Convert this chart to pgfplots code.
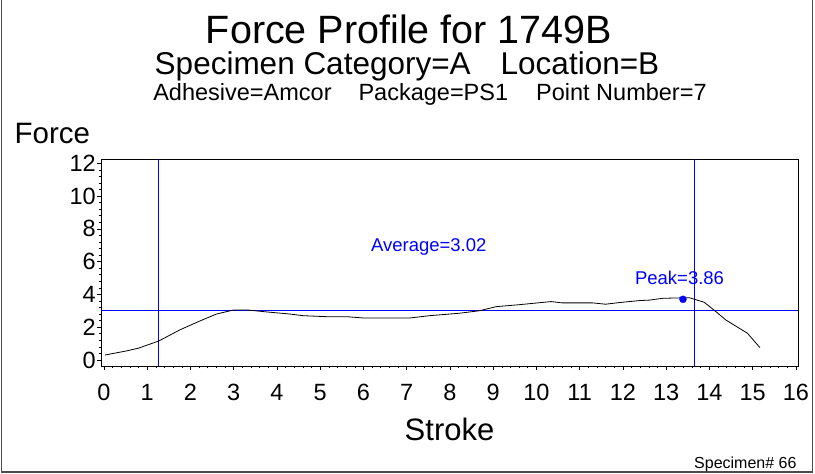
\documentclass[border=0pt]{standalone}
\usepackage{fontspec}
\setmainfont{Liberation Sans}
\usepackage{pgfplots}
\pgfplotsset{compat=1.18}
\definecolor{sasblue}{RGB}{0,0,255}
\newcommand\fs[1]{\fontsize{#1pt}{#1pt}\selectfont}
\begin{document}
\begin{tikzpicture}
\begin{axis}[
  at={(101pt,108pt)}, anchor=south west,
  width=697pt, height=207pt, scale only axis,
  xmin=-0.07, xmax=16.05, ymin=-0.37, ymax=12.26,
  xtick={0,1,...,16}, ytick={0,2,...,12},
  minor x tick num=4, minor y tick num=4,
  tick align=outside, major tick length=4pt, minor tick length=2.5pt,
  xtick pos=bottom, ytick pos=left,
  axis line style={line width=0.8pt},
  tick style={black, line width=0.6pt},
  /pgf/number format/assume math mode=true,
  ticklabel style={font=\fs{23.5}},
  xticklabel style={anchor=base, inner sep=0pt, yshift=-30.7pt},
  yticklabel style={anchor=east, inner sep=0pt, xshift=-1pt},
  clip=false,
]
\addplot[sasblue, line width=1.1pt] coordinates {(1.265,-0.37) (1.265,12.26)};
\addplot[sasblue, line width=1.1pt] coordinates {(13.66,-0.37) (13.66,12.26)};
\addplot[sasblue, line width=1pt] coordinates {(-0.07,3.02) (16.05,3.02)};
\addplot[black, line width=0.8pt] coordinates {
(0.02,0.30) (0.52,0.55) (0.80,0.72) (1.27,1.16) (1.75,1.83) (2.22,2.38)
(2.60,2.80) (3.00,3.05) (3.30,3.05) (3.76,2.93) (4.30,2.80) (4.60,2.70)
(5.14,2.64) (5.60,2.64) (6.00,2.56) (7.07,2.56) (7.53,2.70) (8.22,2.85)
(8.68,3.00) (9.07,3.25) (9.60,3.37) (10.34,3.56) (10.60,3.48) (11.30,3.48)
(11.60,3.40) (11.92,3.50) (12.38,3.62) (12.61,3.65) (12.92,3.76) (13.53,3.80)
(13.88,3.52) (14.15,2.95) (14.38,2.44) (14.88,1.63) (15.17,0.75)
};
\addplot[sasblue, only marks, mark=*, mark size=3.5pt] coordinates {(13.39,3.70)};
\node[sasblue, anchor=base, inner sep=0pt, font=\fs{18.5}] at (axis cs:7.51,6.59) {Average=3.02};
\node[sasblue, anchor=base, inner sep=0pt, font=\fs{18.5}] at (axis cs:13.31,4.58) {Peak=3.86};
\end{axis}
\node[anchor=base, inner sep=0pt, font=\fs{39.5}] at (409pt,430pt) {Force Profile for 1749B};
\node[anchor=base, inner sep=0pt, font=\fs{31.5}] at (407pt,399pt) {Specimen Category=A\hspace{30pt}Location=B};
\node[anchor=base, inner sep=0pt, font=\fs{23.5}] at (430pt,373pt) {Adhesive=Amcor\hspace{27pt}Package=PS1\hspace{28pt}Point Number=7};
\node[anchor=base west, inner sep=0pt, font=\fs{29.5}] at (14.5pt,330.7pt) {Force};
\node[anchor=base, inner sep=0pt, font=\fs{31}] at (449.5pt,33.3pt) {Stroke};
\node[anchor=base west, inner sep=0pt, font=\fs{16}] at (694pt,5.7pt) {Specimen\# 66};
\draw[black!70, line width=1.5pt] (1.5pt,474pt) -- (1.5pt,2pt) -- (812.5pt,2pt) -- (812.5pt,474pt);
\pgfresetboundingbox
\path (0pt,0pt) rectangle (815pt,474pt);
\end{tikzpicture}
\end{document}
